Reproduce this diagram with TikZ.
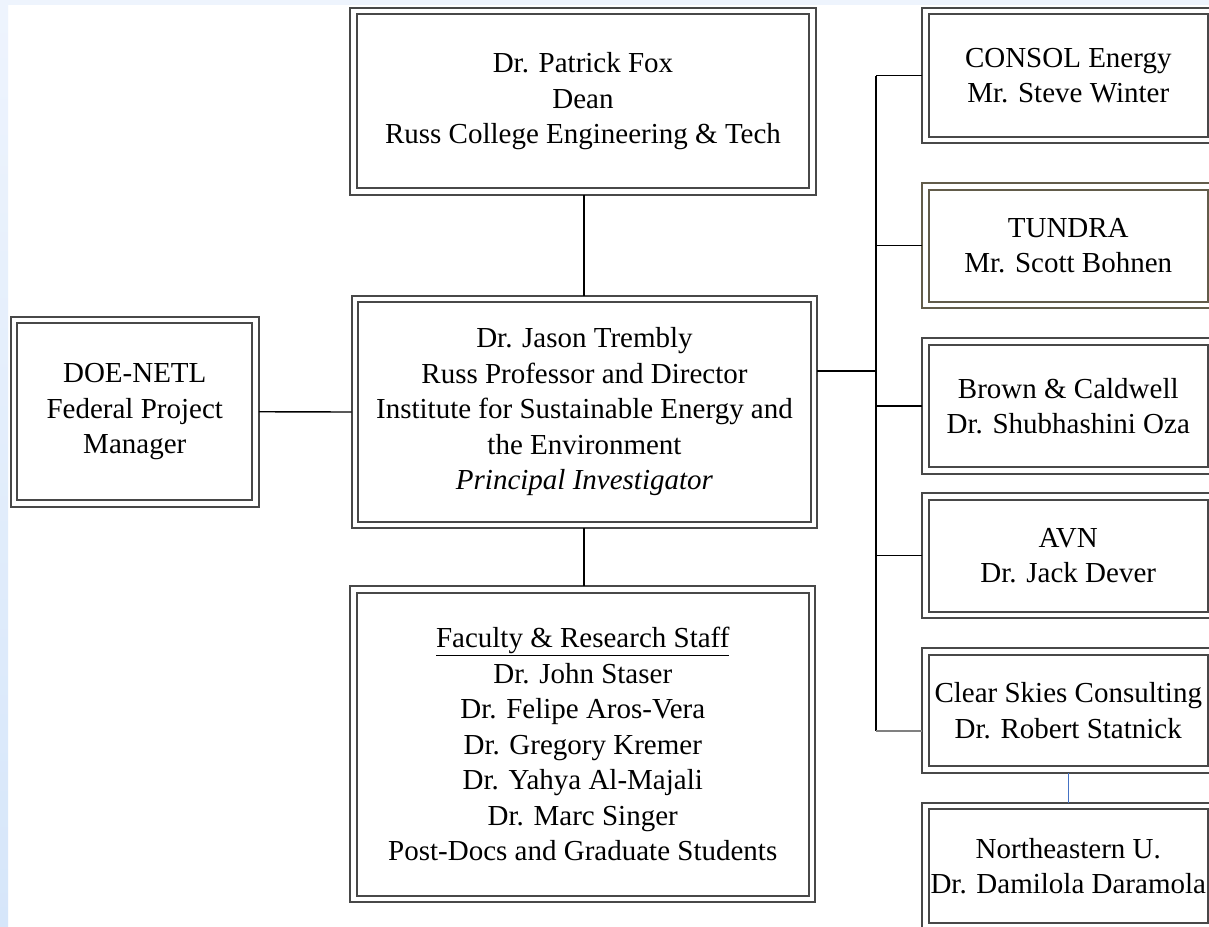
\documentclass[tikz,border=0pt]{standalone}
\usepackage{fontspec}
\setmainfont{Liberation Serif}
\definecolor{boxgray}{RGB}{72,72,72}
\definecolor{boxbrown}{RGB}{98,92,74}
\definecolor{stripA}{RGB}{238,244,253}
\definecolor{stripB}{RGB}{214,230,250}
\definecolor{linkblue}{RGB}{68,114,196}
\begin{document}
\begin{tikzpicture}[x=1pt,y=-1pt,
  box/.style={draw=boxgray, line width=1.9pt, double=white, double distance=4.9pt,
    rectangle, align=center, inner sep=0pt, outer sep=3.4pt,
    font=\fontsize{29}{35.5}\selectfont},
  conn/.style={draw=black, line width=1.4pt},
]
\useasboundingbox (0,0) rectangle (1209,926);
\fill[white] (0,0) rectangle (1209,926);
% background strips
\fill[stripA] (0,0) rectangle (1209,5);
\shade[top color=stripA, bottom color=stripB] (0,0) rectangle (8,926);

% central column
\node[box, minimum width=459pt, minimum height=180.5pt] (dean) at (583,101.25)
  {Dr. Patrick Fox\\Dean\\Russ College Engineering \& Tech};
\node[box, minimum width=459pt, minimum height=226pt] (pi) at (584.5,412)
  {Dr. Jason Trembly\\Russ Professor and Director\\Institute for Sustainable Energy and\\the Environment\\\textit{Principal Investigator}};
\node[box, minimum width=458.5pt, minimum height=309.5pt] (fac) at (582.75,744.25)
  {\underline{Faculty \& Research Staff}\\Dr. John Staser\\Dr. Felipe Aros-Vera\\Dr. Gregory Kremer\\Dr. Yahya Al-Majali\\Dr. Marc Singer\\Post-Docs and Graduate Students};
\node[box, minimum width=241.5pt, minimum height=183.5pt] (doe) at (134.75,411.75)
  {DOE-NETL\\Federal Project\\Manager};

% right column
\node[box, minimum width=285.5pt, minimum height=129pt] (consol) at (1068.25,75.5)
  {CONSOL Energy\\Mr. Steve Winter};
\node[box, draw=boxbrown, minimum width=285.5pt, minimum height=118.5pt] (tundra) at (1068.25,245.75)
  {TUNDRA\\Mr. Scott Bohnen};
\node[box, minimum width=285.5pt, minimum height=129pt] (brown) at (1068.25,406)
  {Brown \& Caldwell\\Dr. Shubhashini Oza};
\node[box, minimum width=285.5pt, minimum height=118.5pt] (avn) at (1068.25,555.75)
  {AVN\\Dr. Jack Dever};
\node[box, minimum width=285.5pt, minimum height=118pt] (clear) at (1068.25,710.5)
  {Clear Skies Consulting\\Dr. Robert Statnick};
\node[box, minimum width=285.5pt, minimum height=120.5pt] (ne) at (1068.25,866.25)
  {Northeastern U.\\Dr. Damilola Daramola};

% connectors
\coordinate (vx) at (584,0);
\draw[conn] (dean.south -| vx) -- (pi.north -| vx);
\draw[conn] (pi.south -| vx) -- (fac.north -| vx);
\draw[conn] (doe.east) -- (pi.west);
\coordinate (bt) at (876,75.5);
\coordinate (bb) at (876,731);
\draw[conn] (bt) -- (bb);
\draw[conn] ([yshift=41pt]pi.east) -- ([yshift=41pt]pi.east -| bt);
\draw[conn] (consol.west) -- (consol.west -| bt);
\draw[conn] (tundra.west) -- (tundra.west -| bt);
\draw[conn] (brown.west) -- (brown.west -| bt);
\draw[conn] (avn.west) -- (avn.west -| bt);
\draw[draw=gray, line width=2.2pt] (bb) -- (bb -| clear.west);
\draw[draw=linkblue, line width=1pt] (clear.south) -- (ne.north);
\end{tikzpicture}
\end{document}
